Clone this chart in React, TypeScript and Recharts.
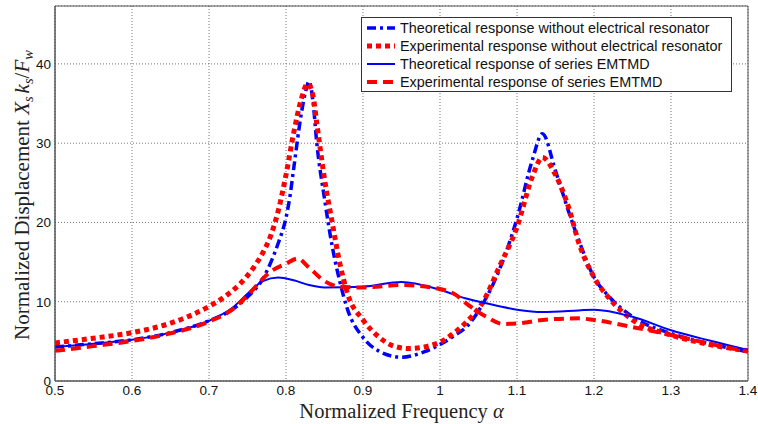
import React from "react";
import {
  LineChart,
  Line,
  XAxis,
  YAxis,
  CartesianGrid,
  ReferenceArea,
} from "recharts";

interface Pt {
  a: number;
  v: number;
}

// normalized frequency alpha vs normalized displacement
const theoNoResonator: Pt[] = [
  { a: 0.5, v: 4.3 }, { a: 0.55, v: 4.7 }, { a: 0.6, v: 5.2 }, { a: 0.65, v: 6.1 },
  { a: 0.7, v: 7.6 }, { a: 0.73, v: 9.0 }, { a: 0.75, v: 10.6 }, { a: 0.77, v: 12.9 },
  { a: 0.78, v: 14.9 }, { a: 0.79, v: 17.4 }, { a: 0.8, v: 20.6 }, { a: 0.805, v: 23.2 },
  { a: 0.81, v: 26.8 }, { a: 0.82, v: 33.8 }, { a: 0.825, v: 36.3 }, { a: 0.83, v: 37.8 },
  { a: 0.835, v: 35.3 }, { a: 0.84, v: 30.0 },
  { a: 0.85, v: 23.0 }, { a: 0.86, v: 17.0 }, { a: 0.87, v: 12.5 }, { a: 0.88, v: 9.0 },
  { a: 0.9, v: 5.5 }, { a: 0.92, v: 3.8 }, { a: 0.95, v: 3.0 }, { a: 0.98, v: 3.7 },
  { a: 1.0, v: 4.6 }, { a: 1.02, v: 5.8 }, { a: 1.035, v: 6.9 }, { a: 1.056, v: 9.8 },
  { a: 1.077, v: 14.0 }, { a: 1.1, v: 20.5 }, { a: 1.12, v: 27.9 }, { a: 1.133, v: 31.2 },
  { a: 1.15, v: 26.5 }, { a: 1.168, v: 21.1 }, { a: 1.18, v: 17.8 }, { a: 1.2, v: 13.1 },
  { a: 1.22, v: 10.6 }, { a: 1.25, v: 8.1 }, { a: 1.3, v: 6.0 }, { a: 1.35, v: 4.7 },
  { a: 1.4, v: 3.7 },
];

const expNoResonator: Pt[] = [
  { a: 0.5, v: 4.8 }, { a: 0.55, v: 5.4 }, { a: 0.6, v: 6.1 }, { a: 0.65, v: 7.3 },
  { a: 0.7, v: 9.4 }, { a: 0.72, v: 10.6 }, { a: 0.75, v: 13.3 }, { a: 0.76, v: 14.6 },
  { a: 0.77, v: 16.2 }, { a: 0.78, v: 18.3 }, { a: 0.79, v: 21.5 }, { a: 0.8, v: 26.0 },
  { a: 0.81, v: 31.3 }, { a: 0.82, v: 35.6 }, { a: 0.828, v: 37.5 }, { a: 0.835, v: 36.0 },
  { a: 0.84, v: 32.5 },
  { a: 0.85, v: 25.5 }, { a: 0.86, v: 20.0 }, { a: 0.87, v: 14.8 }, { a: 0.88, v: 11.0 },
  { a: 0.9, v: 7.7 }, { a: 0.92, v: 5.6 }, { a: 0.94, v: 4.4 }, { a: 0.96, v: 4.1 },
  { a: 0.98, v: 4.3 }, { a: 1.0, v: 4.9 }, { a: 1.02, v: 6.2 }, { a: 1.035, v: 7.5 },
  { a: 1.056, v: 10.0 }, { a: 1.077, v: 14.4 }, { a: 1.1, v: 19.4 }, { a: 1.12, v: 25.8 },
  { a: 1.133, v: 28.2 }, { a: 1.15, v: 26.0 }, { a: 1.168, v: 21.6 }, { a: 1.18, v: 17.5 },
  { a: 1.2, v: 13.1 }, { a: 1.22, v: 10.4 }, { a: 1.25, v: 7.7 }, { a: 1.3, v: 5.8 },
  { a: 1.35, v: 4.6 }, { a: 1.4, v: 3.8 },
];

const theoSeries: Pt[] = [
  { a: 0.5, v: 4.3 }, { a: 0.55, v: 4.7 }, { a: 0.6, v: 5.2 }, { a: 0.65, v: 6.1 },
  { a: 0.7, v: 7.6 }, { a: 0.73, v: 9.2 }, { a: 0.75, v: 11.0 }, { a: 0.77, v: 12.6 },
  { a: 0.79, v: 13.05 }, { a: 0.81, v: 12.7 }, { a: 0.83, v: 12.1 }, { a: 0.85, v: 11.8 },
  { a: 0.9, v: 11.9 }, { a: 0.95, v: 12.5 }, { a: 1.0, v: 11.5 }, { a: 1.034, v: 10.4 },
  { a: 1.06, v: 9.8 }, { a: 1.1, v: 9.0 }, { a: 1.133, v: 8.7 }, { a: 1.18, v: 8.9 },
  { a: 1.2, v: 9.0 }, { a: 1.25, v: 8.1 }, { a: 1.3, v: 6.4 }, { a: 1.35, v: 5.1 },
  { a: 1.4, v: 3.9 },
];

const expSeries: Pt[] = [
  { a: 0.5, v: 3.8 }, { a: 0.55, v: 4.4 }, { a: 0.6, v: 5.05 }, { a: 0.65, v: 6.0 },
  { a: 0.7, v: 7.5 }, { a: 0.73, v: 9.0 }, { a: 0.75, v: 10.8 }, { a: 0.78, v: 13.8 },
  { a: 0.8, v: 14.8 }, { a: 0.815, v: 15.45 }, { a: 0.83, v: 14.3 }, { a: 0.85, v: 12.6 },
  { a: 0.87, v: 11.9 }, { a: 0.9, v: 11.8 }, { a: 0.95, v: 12.1 }, { a: 1.0, v: 11.6 },
  { a: 1.02, v: 10.9 }, { a: 1.034, v: 9.8 }, { a: 1.06, v: 8.1 }, { a: 1.082, v: 7.2 },
  { a: 1.1, v: 7.25 }, { a: 1.133, v: 7.7 }, { a: 1.18, v: 7.9 }, { a: 1.2, v: 7.7 },
  { a: 1.25, v: 6.8 }, { a: 1.3, v: 5.8 }, { a: 1.35, v: 4.7 }, { a: 1.4, v: 3.7 },
];

const xTicks = [0.5, 0.6, 0.7, 0.8, 0.9, 1.0, 1.1, 1.2, 1.3, 1.4];
const yTicks = [0, 10, 20, 30, 40];
const yMax = 47.3;

const seriesStyle = [
  { key: "theoNo", name: "Theoretical response without electrical resonator", data: theoNoResonator, color: "#0000ff", width: 3.5, dash: "9 4 3 4" },
  { key: "expNo", name: "Experimental response without electrical resonator", data: expNoResonator, color: "#ff0000", width: 5, dash: "5 4" },
  { key: "theoSer", name: "Theoretical response of series EMTMD", data: theoSeries, color: "#0000ff", width: 2, dash: undefined },
  { key: "expSer", name: "Experimental response of series EMTMD", data: expSeries, color: "#ff0000", width: 4, dash: "10 6" },
];

const sans = "'Liberation Sans', Arial, sans-serif";
const serif = "'Liberation Serif', 'DejaVu Serif', serif";

// legend box drawn over the plot, like the matlab one
const BoxLegend = () => (
  <div
    style={{
      position: "absolute",
      left: 361,
      top: 17,
      border: "1px solid #333",
      background: "#fff",
      width: 371,
      height: 75,
      boxSizing: "border-box",
      padding: "1px 0 0 5px",
      fontFamily: sans,
      fontSize: 14.4,
      color: "#111",
    }}
  >
    {seriesStyle.map((s) => (
      <div key={s.key} style={{ display: "flex", alignItems: "center", height: 18 }}>
        <svg width={30} height={10} style={{ marginRight: 3 }}>
          <line
            x1={0}
            y1={5}
            x2={28}
            y2={5}
            stroke={s.color}
            strokeWidth={s.width}
            strokeDasharray={s.dash}
          />
        </svg>
        <span>{s.name}</span>
      </div>
    ))}
  </div>
);

const YLabel = () => {
  const cx = 29;
  const cy = 195;
  return (
    <text
      x={cx}
      y={cy}
      transform={`rotate(-90, ${cx}, ${cy})`}
      textAnchor="middle"
      fontFamily={serif}
      fontSize={21}
      fill="#222"
    >
      Normalized Displacement{" "}
      <tspan fontStyle="italic">X</tspan>
      <tspan fontStyle="italic" fontSize={14.5} dy={4}>s</tspan>
      <tspan fontStyle="italic" dy={-4} dx={3}>k</tspan>
      <tspan fontStyle="italic" fontSize={14.5} dy={4}>s</tspan>
      <tspan dy={-4}>/</tspan>
      <tspan fontStyle="italic">F</tspan>
      <tspan fontStyle="italic" fontSize={14.5} dy={4}>w</tspan>
    </text>
  );
};

const XLabel = (props: any) => {
  const vb = props.viewBox || { x: 0, y: 0, width: 0, height: 0 };
  return (
    <text
      x={vb.x + vb.width / 2}
      y={418}
      textAnchor="middle"
      fontFamily={serif}
      fontSize={20.5}
      fill="#222"
    >
      Normalized Frequency <tspan fontStyle="italic">α</tspan>
    </text>
  );
};

export default function App() {
  return (
    <div style={{ position: "absolute", left: 0, top: 0, width: 758, height: 424, background: "#fff" }}>
      <LineChart
        width={758}
        height={424}
        margin={{ top: 6, right: 10, left: 0, bottom: 0 }}
      >
        <CartesianGrid stroke="#555" strokeDasharray="1 2" strokeWidth={0.8} />
        <XAxis
          type="number"
          dataKey="a"
          domain={[0.5, 1.4]}
          ticks={xTicks}
          allowDataOverflow
          height={43}
          tickSize={0}
          tickMargin={4}
          tickLine={false}
          axisLine={{ stroke: "#555" }}
          tick={{ fill: "#111", fontSize: 13.5, fontFamily: sans }}
          tickFormatter={(v: number) => String(Math.round(v * 10) / 10)}
          label={<XLabel />}
        />
        <YAxis
          type="number"
          dataKey="v"
          domain={[0, yMax]}
          ticks={yTicks}
          allowDataOverflow
          width={55}
          tickSize={0}
          tickMargin={4}
          tickLine={false}
          axisLine={{ stroke: "#555" }}
          tick={{ fill: "#111", fontSize: 13.5, fontFamily: sans }}
          label={<YLabel />}
        />
        <ReferenceArea
          x1={0.5}
          x2={1.4}
          y1={0}
          y2={yMax}
          fill="none"
          stroke="#555"
          strokeWidth={1}
          ifOverflow="visible"
        />
        {seriesStyle.map((s) => (
          <Line
            key={s.key}
            data={s.data}
            dataKey="v"
            name={s.name}
            type="monotone"
            stroke={s.color}
            strokeWidth={s.width}
            strokeDasharray={s.dash}
            dot={false}
            activeDot={false}
            isAnimationActive={false}
          />
        ))}
      </LineChart>
      <BoxLegend />
    </div>
  );
}
